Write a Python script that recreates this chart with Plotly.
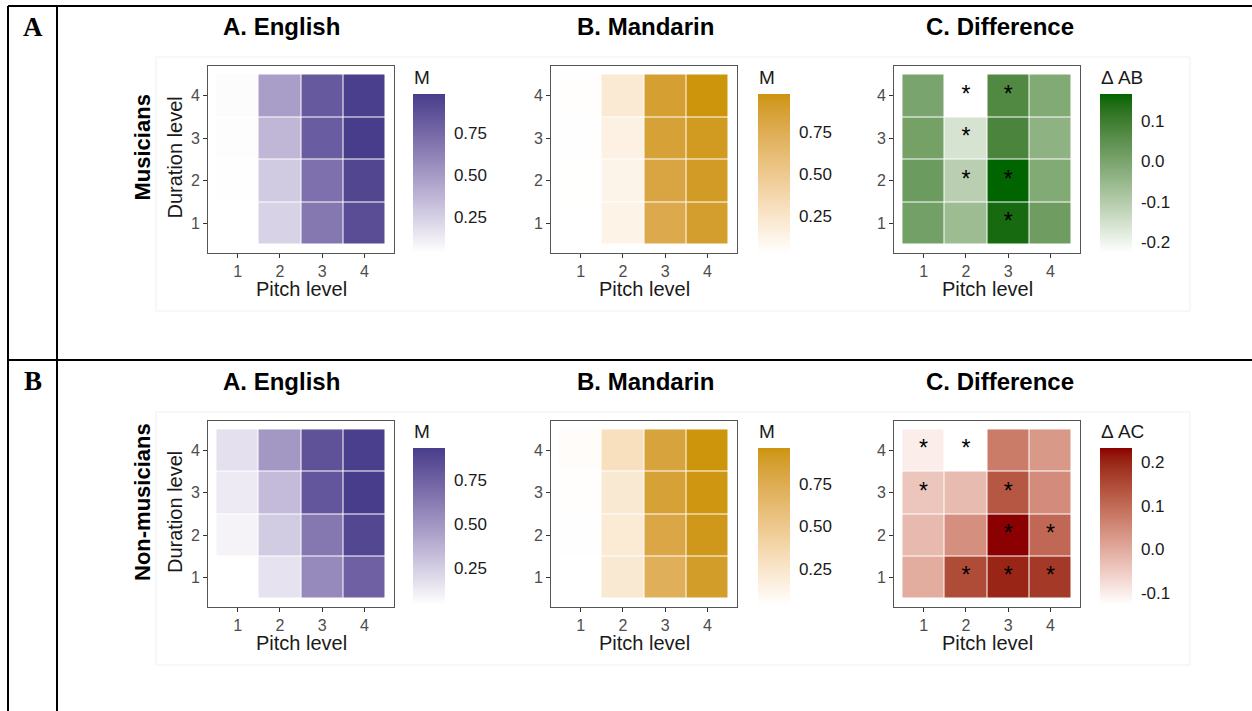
import numpy as np
import plotly.graph_objects as go

# ---------------------------------------------------------------------------
# Data: rows are duration levels 1..4, columns are pitch levels 1..4
# ---------------------------------------------------------------------------
pitch_levels = [1, 2, 3, 4]
duration_levels = [1, 2, 3, 4]

english_musicians = [
    [0.036, 0.24, 0.67, 0.89],
    [0.040, 0.27, 0.71, 0.93],
    [0.045, 0.36, 0.81, 0.98],
    [0.050, 0.48, 0.83, 0.97],
]
mandarin_musicians = [
    [0.030, 0.13, 0.78, 0.89],
    [0.033, 0.12, 0.82, 0.92],
    [0.035, 0.15, 0.86, 0.93],
    [0.040, 0.21, 0.88, 0.976],
]
diff_musicians = [
    [0.012, -0.060, 0.150, 0.020],
    [0.025, -0.110, 0.167, -0.014],
    [0.010, -0.157, 0.080, -0.036],
    [0.000, -0.227, 0.070, -0.014],
]
sig_musicians = [
    [0, 0, 1, 0],
    [0, 1, 1, 0],
    [0, 1, 0, 0],
    [0, 1, 1, 0],
]

english_nonmusicians = [
    [0.040, 0.16, 0.556, 0.75],
    [0.090, 0.26, 0.64, 0.88],
    [0.130, 0.33, 0.80, 0.93],
    [0.170, 0.49, 0.82, 0.92],
]
mandarin_nonmusicians = [
    [0.040, 0.22, 0.72, 0.89],
    [0.045, 0.21, 0.79, 0.93],
    [0.050, 0.22, 0.85, 0.95],
    [0.060, 0.30, 0.83, 0.96],
]
diff_nonmusicians = [
    [-0.001, 0.147, 0.201, 0.175],
    [-0.023, 0.043, 0.232, 0.104],
    [-0.042, -0.025, 0.130, 0.048],
    [-0.100, -0.127, 0.073, 0.028],
]
sig_nonmusicians = [
    [0, 1, 1, 1],
    [0, 0, 1, 1],
    [1, 0, 1, 0],
    [1, 1, 0, 0],
]

panel_titles = ["A. English", "B. Mandarin", "C. Difference"]
group_labels = ["Musicians", "Non-musicians"]
row_letters = ["A", "B"]
legend_titles = [["M", "M", "Δ AB"], ["M", "M", "Δ AC"]]
mean_ticks = [0.25, 0.50, 0.75]
ab_ticks = [-0.2, -0.1, 0.0, 0.1]
ac_ticks = [-0.1, 0.0, 0.1, 0.2]

# ---------------------------------------------------------------------------
# Helpers
# ---------------------------------------------------------------------------
W, H = 1252, 711
FONT = "Liberation Sans, Arial, Helvetica, sans-serif"
SERIF = "Liberation Serif, DejaVu Serif, serif"


def fx(x):
    return x / W


def fy(y):
    return 1 - y / H


def _lin(c):
    c = c / 255.0
    return c / 12.92 if c <= 0.04045 else ((c + 0.055) / 1.055) ** 2.4


def _gam(c):
    c = 12.92 * c if c <= 0.0031308 else 1.055 * c ** (1 / 2.4) - 0.055
    return int(round(min(max(c, 0), 1) * 255))


_M = np.array([[0.4124, 0.3576, 0.1805], [0.2126, 0.7152, 0.0722], [0.0193, 0.1192, 0.9505]])
_WP = np.array([0.95047, 1.0, 1.08883])


def hex_to_lab(h):
    h = h.lstrip("#")
    rgb = np.array([_lin(int(h[i:i + 2], 16)) for i in (0, 2, 4)])
    xyz = _M @ rgb / _WP
    f = np.where(xyz > 216 / 24389, np.cbrt(xyz), (24389 / 27 * xyz + 16) / 116)
    return np.array([116 * f[1] - 16, 500 * (f[0] - f[1]), 200 * (f[1] - f[2])])


def lab_to_rgb_str(lab):
    L, a, b = lab
    fyv = (L + 16) / 116
    fxv = fyv + a / 500
    fzv = fyv - b / 200
    f = np.array([fxv, fyv, fzv])
    xyz = np.where(f ** 3 > 216 / 24389, f ** 3, (116 * f - 16) / (24389 / 27)) * _WP
    rgb = np.linalg.solve(_M, xyz)
    r, g, bb = (_gam(c) for c in rgb)
    return f"rgb({r},{g},{bb})"


def lab_scale(lo, hi, n=21):
    a, b = hex_to_lab(lo), hex_to_lab(hi)
    return [[i / (n - 1), lab_to_rgb_str(a + (b - a) * i / (n - 1))] for i in range(n)]


purple = lab_scale("#FFFFFF", "#483D8B")
gold = lab_scale("#FFFFFF", "#CD950C")
green = lab_scale("#FFFFFF", "#006400")
red = lab_scale("#FFFFFF", "#8B0000")

# Panel geometry (pixels)
box_x = [(208, 394), (551, 737), (894, 1080)]
box_y = [(66, 253), (421, 607)]
bar_left = [413, 758, 1100]
bar_y = [(94, 253), (448, 605)]
title_cx = [281, 645, 1000]
title_cy = [27, 381]

rows = [
    (english_musicians, mandarin_musicians, diff_musicians, sig_musicians, green, ab_ticks),
    (english_nonmusicians, mandarin_nonmusicians, diff_nonmusicians, sig_nonmusicians, red, ac_ticks),
]

fig = go.Figure()
layout = dict()
annotations = []
shapes = []

axis_common = dict(
    range=[0.3, 4.7], tickvals=[1, 2, 3, 4], ticktext=["1", "2", "3", "4"],
    ticks="outside", ticklen=4, tickwidth=1, tickcolor="#333333",
    tickfont=dict(family=FONT, size=16, color="#4d4d4d"),
    showline=True, mirror=True, linecolor="#555555", linewidth=1,
    showgrid=False, zeroline=False, fixedrange=True,
)

idx = 0
for r, (eng, man, dif, sig, dscale, dticks) in enumerate(rows):
    panels = [(eng, purple, mean_ticks, "{:.2f}"), (man, gold, mean_ticks, "{:.2f}"),
              (dif, dscale, dticks, "{:.1f}")]
    for c, (z, cscale, tvals, fmt) in enumerate(panels):
        idx += 1
        xa = "x" if idx == 1 else f"x{idx}"
        ya = "y" if idx == 1 else f"y{idx}"
        x0, x1 = box_x[c]
        y0, y1 = box_y[r]
        layout["xaxis" if idx == 1 else f"xaxis{idx}"] = dict(
            axis_common, domain=[fx(x0), fx(x1)], anchor=ya)
        layout["yaxis" if idx == 1 else f"yaxis{idx}"] = dict(
            axis_common, domain=[fy(y1), fy(y0)], anchor=xa)

        bt, bb = bar_y[r]
        bl = bar_left[c]
        fig.add_trace(go.Heatmap(
            x=pitch_levels, y=duration_levels, z=z, colorscale=cscale,
            xgap=1, ygap=1, xaxis=xa, yaxis=ya, hoverinfo="skip",
            colorbar=dict(
                x=fx(bl), xanchor="left", xpad=0,
                y=fy((bt + bb) / 2), yanchor="middle", ypad=0,
                len=bb - bt, lenmode="pixels", thickness=32, thicknessmode="pixels",
                outlinewidth=0, ticks="outside", ticklen=6, tickcolor="rgba(0,0,0,0)",
                tickvals=tvals, ticktext=[fmt.format(v) for v in tvals],
                tickfont=dict(family=FONT, size=17, color="#1a1a1a"),
            ),
        ))

        # white guide ticks drawn inside both edges of the colour bar
        zarr = np.array(z)
        zmin, zmax = zarr.min(), zarr.max()
        for v in tvals:
            ypx = bb - (v - zmin) / (zmax - zmin) * (bb - bt)
            for xs in ((bl, bl + 6), (bl + 26, bl + 32)):
                shapes.append(dict(type="line", xref="paper", yref="paper",
                                   x0=fx(xs[0]), x1=fx(xs[1]), y0=fy(ypx), y1=fy(ypx),
                                   line=dict(color="white", width=1)))

        # significance stars on the difference map
        if c == 2:
            sx, sy = [], []
            for i, d in enumerate(duration_levels):
                for j, p in enumerate(pitch_levels):
                    if sig[i][j]:
                        sx.append(p)
                        sy.append(d)
            fig.add_trace(go.Scatter(
                x=sx, y=sy, mode="text", text=["*"] * len(sx), xaxis=xa, yaxis=ya,
                textfont=dict(family=FONT, size=23, color="black"), hoverinfo="skip",
                showlegend=False,
            ))

        # panel title
        annotations.append(dict(text=f"<b>{panel_titles[c]}</b>", x=fx(title_cx[c]), y=fy(title_cy[r]),
                                xref="paper", yref="paper", showarrow=False,
                                xanchor="center", yanchor="middle",
                                font=dict(family=FONT, size=24, color="black")))
        # x axis title
        annotations.append(dict(text="Pitch level", x=fx((x0 + x1) / 2), y=fy(y1 + 36),
                                xref="paper", yref="paper", showarrow=False,
                                xanchor="center", yanchor="middle",
                                font=dict(family=FONT, size=20, color="#1a1a1a")))
        # legend title
        annotations.append(dict(text=legend_titles[r][c], x=fx(bl - 1), y=fy(bt - 17),
                                xref="paper", yref="paper", showarrow=False,
                                xanchor="left", yanchor="middle",
                                font=dict(family=FONT, size=19, color="#1a1a1a")))

    y0, y1 = box_y[r]
    annotations.append(dict(text="Duration level", x=fx(175), y=fy((y0 + y1) / 2 - 2),
                            xref="paper", yref="paper", showarrow=False, textangle=-90,
                            xanchor="center", yanchor="middle",
                            font=dict(family=FONT, size=20, color="#1a1a1a")))
    annotations.append(dict(text=f"<b>{group_labels[r]}</b>", x=fx(142), y=fy((y0 + y1) / 2 - 12),
                            xref="paper", yref="paper", showarrow=False, textangle=-90,
                            xanchor="center", yanchor="middle",
                            font=dict(family=FONT, size=22, color="black")))
    annotations.append(dict(text=f"<b>{row_letters[r]}</b>", x=fx(33), y=fy(title_cy[r]),
                            xref="paper", yref="paper", showarrow=False,
                            xanchor="center", yanchor="middle",
                            font=dict(family=SERIF, size=27, color="black")))
    # faint frame around the row of figures
    shapes.append(dict(type="rect", xref="paper", yref="paper",
                       x0=fx(156), x1=fx(1190), y0=fy(box_y[r][0] - 9), y1=fy(box_y[r][1] + 58),
                       line=dict(color="#f0f0f0", width=1), layer="below"))

# table rules
for (xa0, ya0, xa1, ya1) in [(8, 6, 1252, 6), (8, 360, 1252, 360), (8, 6, 8, 711), (57, 6, 57, 711)]:
    shapes.append(dict(type="line", xref="paper", yref="paper",
                       x0=fx(xa0), y0=fy(ya0), x1=fx(xa1), y1=fy(ya1),
                       line=dict(color="black", width=2)))

fig.update_layout(
    **layout,
    width=W, height=H, margin=dict(l=0, r=0, t=0, b=0),
    paper_bgcolor="white", plot_bgcolor="white", showlegend=False,
    annotations=annotations, shapes=shapes,
    font=dict(family=FONT),
)

fig.write_html("out.html")
